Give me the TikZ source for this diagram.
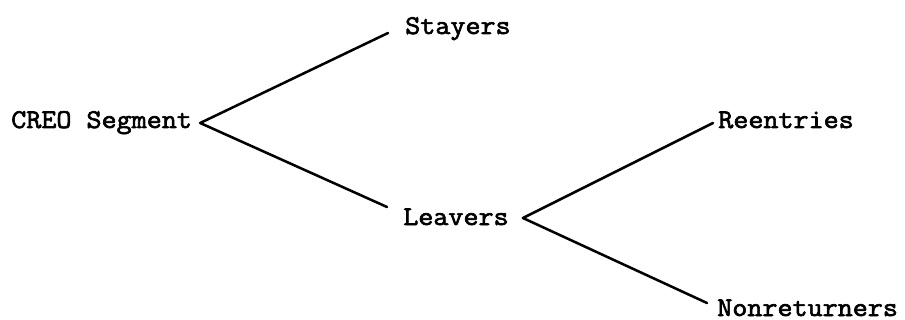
\documentclass[tikz,border=0pt]{standalone}
\usepackage{fontspec}
\newfontfamily\typew{Latin Modern Mono}[FakeStretch=1.08,FakeBold=2.4]
\usetikzlibrary{calc}
\begin{document}
\begin{tikzpicture}[x=0.75pt,y=-0.75pt,
  lbl/.style={anchor=base west,inner sep=0pt,font=\typew\fontsize{20.3}{24}\selectfont},
  branch/.style={line width=1.9pt,line join=round,line cap=round}]
\useasboundingbox (0,0) rectangle (905,320);
\node[lbl] (creo) at (11,128) {CREO Segment};
\node[lbl] (stay) at (405,34) {Stayers};
\node[lbl] (leav) at (403,225) {Leavers};
\node[lbl] (reen) at (718,128) {Reentries};
\node[lbl] (nonr) at (717,316) {Nonreturners};
\draw[branch] ($(stay.base west)+(-17,-1)$) -- ($(creo.base east)+(8,-5)$) -- ($(leav.base west)+(-16,-18)$);
\draw[branch] ($(reen.base west)+(-5,-5)$) -- ($(leav.base east)+(14,-7)$) -- ($(nonr.base west)+(-10,-13)$);
\end{tikzpicture}
\end{document}
